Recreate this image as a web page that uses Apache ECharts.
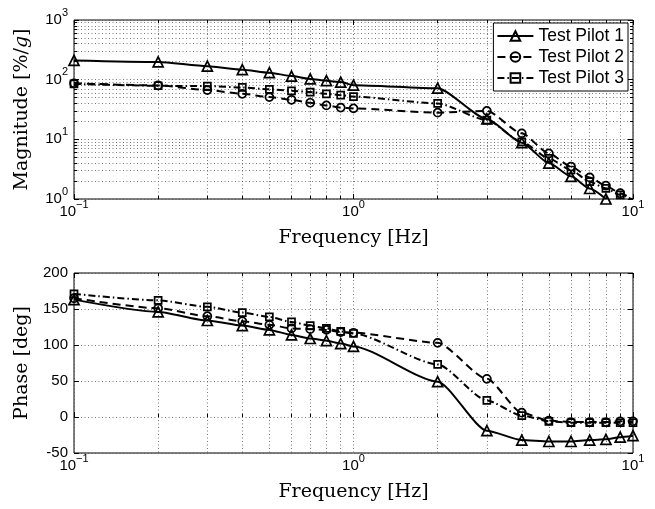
<!DOCTYPE html>
<html>
<head>
<meta charset="utf-8">
<script src="https://cdn.jsdelivr.net/npm/echarts@6/dist/echarts.min.js"></script>
<style>
  html, body { margin: 0; padding: 0; background: #fff; }
  #chart { width: 655px; height: 509px; }
</style>
</head>
<body>
<div id="chart"></div>
<script>
  // sample frequencies [Hz]
  var freqs = [0.1, 0.2, 0.3, 0.4, 0.5, 0.6, 0.7, 0.8, 0.9, 1, 2, 3, 4, 5, 6, 7, 8, 9, 10];

  // magnitude [%/g]
  var mag1 = [210, 198, 168, 147, 131, 115, 103, 96, 91, 81, 72, 22, 8.8, 4.0, 2.4, 1.5, 1.0];
  var mag2 = [87, 80, 67, 58, 51, 46, 41, 37, 34, 33, 28, 30, 12.6, 5.8, 3.5, 2.3, 1.67, 1.25, 0.97];
  var mag3 = [85, 79, 78, 74, 69, 65, 62, 58, 55, 52, 40, 21, 9.1, 4.8, 3.06, 1.95, 1.51, 1.17, 0.97];

  // phase [deg]
  var phase1 = [163, 146, 134, 127, 121, 114, 109, 106, 102, 98, 49, -19, -32, -34, -34, -32, -31, -28, -26];
  var phase2 = [165, 151, 140, 133, 128, 123, 122, 121, 118, 117, 103, 53, 6, -5, -7, -7, -7, -6, -6];
  var phase3 = [171, 162, 153, 145, 139, 132, 127, 123, 119, 116, 73, 23, 2, -6, -8, -8, -8, -8, -8];

  var pilots = ["Test Pilot 1", "Test Pilot 2", "Test Pilot 3"];

  // ticks
  var freqMajor = [0.1, 1, 10];
  var freqMinor = [0.2, 0.3, 0.4, 0.5, 0.6, 0.7, 0.8, 0.9, 2, 3, 4, 5, 6, 7, 8, 9];
  var magMajor = [1, 10, 100, 1000];
  var magMinor = [2, 3, 4, 5, 6, 7, 8, 9, 20, 30, 40, 50, 60, 70, 80, 90, 200, 300, 400, 500, 600, 700, 800, 900];

  var sans = "Liberation Sans";
  var serif = "DejaVu Serif";

  var pairs = function (ys) {
    return ys.map(function (y, i) { return [freqs[i], y]; });
  };

  var powLabel = function (v) {
    var e = Math.round(Math.log10(v));
    return "{b|10}{s|" + (e < 0 ? "\u2212" + (-e) : e) + "}";
  };
  var powRich = {
    b: { fontSize: 15, fontFamily: sans, color: "#000", lineHeight: 26 },
    s: { fontSize: 11, fontFamily: sans, color: "#000", verticalAlign: "top", lineHeight: 12 }
  };

  var dotted = { show: true, lineStyle: { color: "#555", width: 0.8, type: [1, 2.5] } };

  // one log axis; major or minor, with or without labels/grid
  function logAxis(kind, gridIndex, position, ticks, len, withGrid, withLabels, min, max) {
    var ax = {
      type: "log",
      logBase: 10,
      gridIndex: gridIndex,
      position: position,
      min: min,
      max: max,
      axisLine: { show: false },
      axisTick: { show: true, inside: true, length: len, customValues: ticks, lineStyle: { color: "#000", width: 1 } },
      axisLabel: { show: false },
      splitLine: withGrid ? dotted : { show: false },
      minorTick: { show: false },
      minorSplitLine: { show: false }
    };
    if (withLabels) {
      ax.axisLabel = {
        show: true,
        customValues: ticks,
        margin: kind === "x" ? 0 : 6,
        formatter: powLabel,
        rich: powRich
      };
    }
    return ax;
  }

  var xAxes = [];
  [0, 1].forEach(function (g) {
    var xa = logAxis("x", g, "bottom", freqMajor, 5, true, true, 0.1, 10);
    xa.name = "Frequency [Hz]";
    xa.nameLocation = "middle";
    xa.nameGap = 30;
    xa.nameTextStyle = { fontFamily: serif, fontSize: 19, color: "#000" };
    xAxes.push(xa);
    xAxes.push(logAxis("x", g, "bottom", freqMinor, 3, true, false, 0.1, 10));
    xAxes.push(logAxis("x", g, "top", freqMajor, 5, false, false, 0.1, 10));
    xAxes.push(logAxis("x", g, "top", freqMinor, 3, false, false, 0.1, 10));
  });

  var magY = logAxis("y", 0, "left", magMajor, 5, true, true, 1, 1000);
  magY.name = "Magnitude [%/{i|g}]";
  magY.nameLocation = "middle";
  magY.nameGap = 42;
  magY.nameTextStyle = {
    fontFamily: serif, fontSize: 19, color: "#000",
    rich: { i: { fontFamily: serif, fontSize: 19, fontStyle: "italic", color: "#000" } }
  };

  var phaseTick = { show: true, inside: true, length: 5, lineStyle: { color: "#000", width: 1 } };
  var yAxes = [
    magY,
    logAxis("y", 0, "left", magMinor, 3, true, false, 1, 1000),
    logAxis("y", 0, "right", magMajor, 5, false, false, 1, 1000),
    logAxis("y", 0, "right", magMinor, 3, false, false, 1, 1000),
    {
      type: "value", gridIndex: 1, position: "left",
      min: -50, max: 200, interval: 50,
      axisLine: { show: false },
      axisTick: phaseTick,
      axisLabel: { margin: 6, fontSize: 15, fontFamily: sans, color: "#000" },
      splitLine: dotted,
      name: "Phase [deg]",
      nameLocation: "middle",
      nameGap: 42,
      nameTextStyle: { fontFamily: serif, fontSize: 19, color: "#000" }
    },
    {
      type: "value", gridIndex: 1, position: "right",
      min: -50, max: 200, interval: 50,
      axisLine: { show: false },
      axisTick: phaseTick,
      axisLabel: { show: false },
      splitLine: { show: false }
    }
  ];

  var looks = [
    { symbol: "triangle", size: 10, dash: "solid" },
    { symbol: "circle", size: 8, dash: [8, 5] },
    { symbol: "rect", size: 7, dash: [7, 3, 1.5, 3] }
  ];

  function makeSeries(i, ys, xi, yi) {
    return {
      name: pilots[i],
      type: "line",
      xAxisIndex: xi,
      yAxisIndex: yi,
      data: pairs(ys),
      smooth: 0.22,
      smoothMonotone: "x",
      symbol: looks[i].symbol,
      symbolSize: looks[i].size,
      showSymbol: true,
      clip: true,
      lineStyle: { color: "#000", width: 2, type: looks[i].dash },
      itemStyle: { color: "rgba(255,255,255,0)", borderColor: "#000", borderWidth: 1.7 },
      emphasis: { disabled: true },
      z: 3 - i
    };
  }

  var series = [
    makeSeries(0, mag1, 0, 0),
    makeSeries(1, mag2, 0, 0),
    makeSeries(2, mag3, 0, 0),
    makeSeries(0, phase1, 4, 4),
    makeSeries(1, phase2, 4, 4),
    makeSeries(2, phase3, 4, 4)
  ];

  var chart = echarts.init(document.getElementById("chart"), null, { renderer: "canvas" });
  chart.setOption({
    animation: false,
    backgroundColor: "#fff",
    grid: [
      { left: 74, top: 20, width: 559, height: 179, show: true, borderColor: "#000", borderWidth: 1, backgroundColor: "transparent" },
      { left: 74, top: 273, width: 559, height: 180, show: true, borderColor: "#000", borderWidth: 1, backgroundColor: "transparent" }
    ],
    legend: {
      data: pilots,
      orient: "vertical",
      right: 27,
      top: 23,
      backgroundColor: "#fff",
      borderColor: "#000",
      borderWidth: 1,
      borderRadius: 0,
      padding: [4, 4, 4, 3],
      itemWidth: 36,
      itemHeight: 12,
      itemGap: 3,
      textStyle: { fontFamily: sans, fontSize: 17.5, lineHeight: 18, color: "#000" },
      selectedMode: false
    },
    xAxis: xAxes,
    yAxis: yAxes,
    series: series
  });
</script>
</body>
</html>
